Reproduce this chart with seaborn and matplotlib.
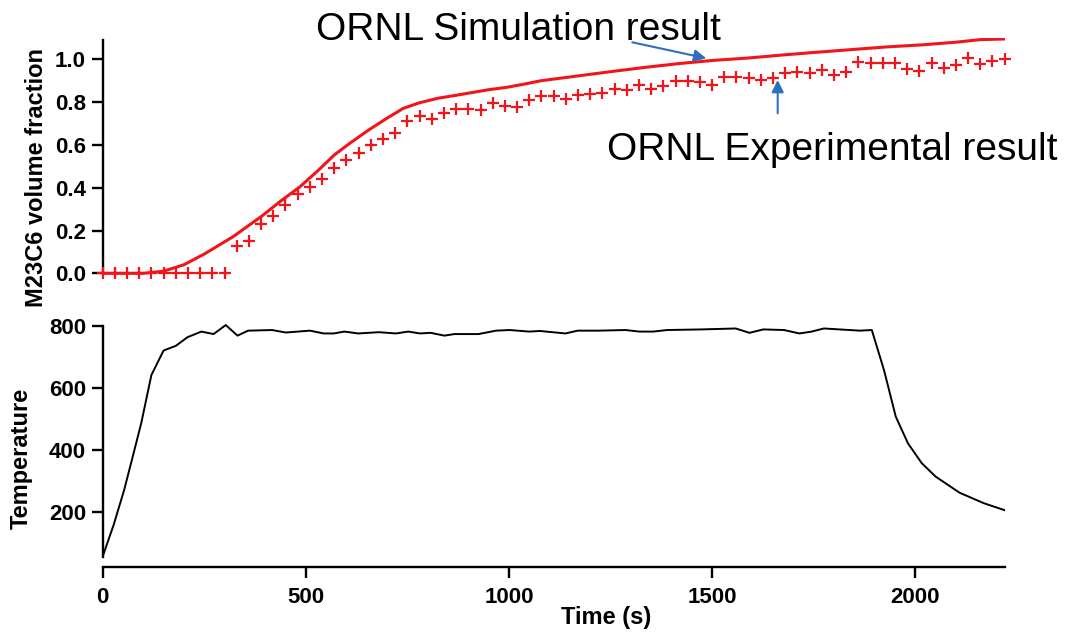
import matplotlib
matplotlib.use('Agg')
import matplotlib.pyplot as plt
import seaborn as sns

sns.set_style("ticks")
plt.rcParams['font.family'] = ['Liberation Sans', 'DejaVu Sans']
plt.rcParams['font.weight'] = 'bold'
plt.rcParams['text.color'] = 'black'
plt.rcParams['axes.labelcolor'] = 'black'
plt.rcParams['xtick.color'] = 'black'
plt.rcParams['ytick.color'] = 'black'

# ---- simulation curve (M23C6 volume fraction) ----
sim_time = [0, 100, 150, 200, 250, 320, 390, 440, 486, 530, 570, 610, 655, 700, 740,
            780, 825, 870, 910, 950, 994, 1040, 1079, 1164, 1249, 1333, 1418, 1503,
            1588, 1672, 1757, 1840, 1930, 2020, 2100, 2160, 2220]
sim_frac = [0.0, 0.0, 0.01, 0.04, 0.09, 0.17, 0.265, 0.34, 0.405, 0.48, 0.553, 0.61,
            0.67, 0.725, 0.771, 0.797, 0.818, 0.832, 0.845, 0.858, 0.869, 0.885, 0.90,
            0.921, 0.942, 0.962, 0.98, 0.995, 1.006, 1.02, 1.033, 1.045, 1.058,
            1.068, 1.08, 1.092, 1.095]

# ---- experimental points ----
exp_time = [0, 30, 60, 90, 120, 150, 180, 210, 240, 270, 300, 330, 360, 390, 420, 450,
            480, 510, 540, 570, 600, 630, 660, 690, 720, 750, 780, 810, 840, 870, 900,
            930, 960, 990, 1020, 1050, 1080, 1110, 1140, 1170, 1200, 1230, 1260, 1290,
            1320, 1350, 1380, 1410, 1440, 1470, 1500, 1530, 1560, 1590, 1620, 1650, 1680,
            1710, 1740, 1770, 1800, 1830, 1860, 1890, 1920, 1950, 1980, 2010, 2040, 2070,
            2100, 2130, 2160, 2190, 2220]
exp_frac = [0, 0, 0, 0, 0, 0, 0, 0, 0, 0, 0, 0.13, 0.15, 0.23, 0.27, 0.32,
            0.37, 0.405, 0.44, 0.49, 0.53, 0.56, 0.60, 0.63, 0.655, 0.71, 0.735, 0.72,
            0.748, 0.768, 0.768, 0.763, 0.797, 0.782, 0.776, 0.81, 0.828, 0.828, 0.815,
            0.833, 0.838, 0.842, 0.86, 0.858, 0.878, 0.86, 0.873, 0.898, 0.90, 0.896,
            0.878, 0.919, 0.919, 0.911, 0.903, 0.911, 0.938, 0.943, 0.936, 0.95, 0.927,
            0.942, 0.989, 0.981, 0.981, 0.984, 0.953, 0.947, 0.981, 0.958, 0.974, 1.005,
            0.978, 0.994, 1.0]

# ---- temperature history ----
temp_time = [0, 27, 53, 74, 95, 120, 150, 180, 209, 243, 273, 303, 332, 358, 417, 451,
             510, 544, 569, 595, 629, 680, 722, 752, 781, 807, 841, 866, 925, 968, 1002,
             1050, 1076, 1139, 1169, 1219, 1287, 1321, 1355, 1389, 1474, 1558, 1592, 1626,
             1677, 1715, 1745, 1775, 1813, 1864, 1893, 1923, 1952, 1982, 2016, 2050, 2109,
             2169, 2224]
temp_val = [57, 159, 272, 379, 487, 642, 721, 736, 764, 782, 774, 803, 769, 785, 787, 779,
            785, 776, 776, 782, 776, 780, 776, 782, 776, 778, 769, 774, 774, 785, 787,
            782, 784, 776, 785, 785, 787, 782, 782, 787, 789, 792, 778, 789,
            787, 776, 782, 792, 789, 785, 787, 658, 508, 422, 358, 315, 263,
            229, 205]

RED = '#f2141a'
BLUE = '#2e6fc0'

fig = plt.figure(figsize=(10.68, 6.33), dpi=100)
ax1 = fig.add_axes([0.0961, 0.5513, 0.8446, 0.3888])
ax2 = fig.add_axes([0.0961, 0.1049, 0.8446, 0.385])

# --------- TOP: volume fraction ----------
sns.lineplot(x=sim_time, y=sim_frac, ax=ax1, color=RED, linewidth=2.2,
             estimator=None, sort=False)
sns.scatterplot(x=exp_time, y=exp_frac, ax=ax1, marker='+', s=85, color=RED,
                linewidth=1.6, clip_on=False, zorder=3)
ax1.set_xlim(0, 2220)
ax1.set_ylim(-0.05, 1.10)
ax1.set_yticks([0.0, 0.2, 0.4, 0.6, 0.8, 1.0])
ax1.set_yticklabels(['0.0', '0.2', '0.4', '0.6', '0.8', '1.0'])
ax1.set_xticks([])
for s in ['top', 'right', 'bottom']:
    ax1.spines[s].set_visible(False)
ax1.spines['left'].set_bounds(0, 1.09)
ax1.set_ylabel('M23C6 volume fraction', fontsize=17, fontweight='bold')
ax1.yaxis.set_label_coords(-0.0605, 0.433)

# --------- BOTTOM: temperature ----------
sns.lineplot(x=temp_time, y=temp_val, ax=ax2, color='black', linewidth=1.4,
             estimator=None, sort=False)
ax2.set_xlim(0, 2220)
ax2.set_ylim(25, 810)
ax2.set_yticks([200, 400, 600, 800])
ax2.set_xticks([0, 500, 1000, 1500, 2000])
for s in ['top', 'right']:
    ax2.spines[s].set_visible(False)
ax2.spines['left'].set_bounds(57, 800)
ax2.set_ylabel('Temperature', fontsize=17, fontweight='bold')
ax2.yaxis.set_label_coords(-0.0775, 0.444)
ax2.set_xlabel('Time (s)', fontsize=17, fontweight='bold')
ax2.xaxis.set_label_coords(0.5586, -0.16)

for ax in (ax1, ax2):
    for s in ['left', 'bottom']:
        ax.spines[s].set_linewidth(1.7)
        ax.spines[s].set_color('black')
    ax.tick_params(axis='both', length=8, width=1.7, labelsize=16, color='black',
                   labelcolor='black')
    ax.tick_params(axis='y', pad=4)
    ax.tick_params(axis='x', pad=7)
    for lab in ax.get_xticklabels() + ax.get_yticklabels():
        lab.set_fontweight('bold')

# --------- annotations ----------
W, H = 1068.0, 633.0
fig.text(315.5 / W, 1 - 40 / H, 'ORNL Simulation result', fontsize=28,
         fontweight='normal', color='black', ha='left', va='baseline')
fig.text(607 / W, 1 - 160 / H, 'ORNL Experimental result', fontsize=28,
         fontweight='normal', color='black', ha='left', va='baseline')
ax1.annotate('', xy=(706.3 / W, 1 - 58.3 / H), xytext=(632.3 / W, 1 - 42.3 / H),
             xycoords='figure fraction', textcoords='figure fraction',
             arrowprops=dict(arrowstyle='-|>', color=BLUE, lw=1.5,
                             mutation_scale=18, shrinkA=0, shrinkB=0))
ax1.annotate('', xy=(777.7 / W, 1 - 80 / H), xytext=(777.7 / W, 1 - 113.3 / H),
             xycoords='figure fraction', textcoords='figure fraction',
             arrowprops=dict(arrowstyle='-|>', color=BLUE, lw=1.5,
                             mutation_scale=18, shrinkA=0, shrinkB=0))

fig.savefig('out.png', dpi=100)
